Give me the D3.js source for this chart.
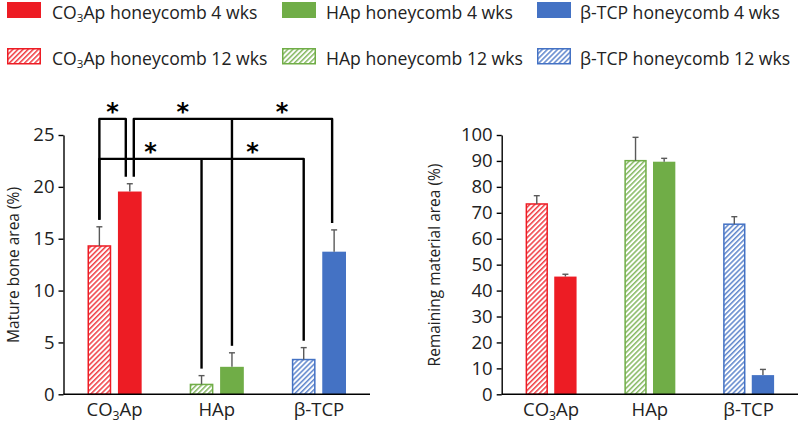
<!DOCTYPE html>
<html><head><meta charset="utf-8">
<script src="https://cdn.jsdelivr.net/npm/d3@7"></script>
<style>
html,body{margin:0;padding:0;background:#fff;}
svg{display:block;font-family:"Open Sans","Noto Sans",sans-serif;}
</style></head>
<body>
<svg id="chart" width="800" height="424"></svg>
<script>
// ---------- data ----------
const categories = ["CO3Ap", "HAp", "β-TCP"];
const seriesKeys = ["12wks", "4wks"];
const colors = ["#ED1C24", "#70AD47", "#4472C4"];
const legendLabels4 = [["CO", "3", "Ap honeycomb 4 wks"], ["HAp honeycomb 4 wks"], ["β-TCP honeycomb 4 wks"]];
const legendLabels12 = [["CO", "3", "Ap honeycomb 12 wks"], ["HAp honeycomb 12 wks"], ["β-TCP honeycomb 12 wks"]];

// Mature bone area (%)
const bone12 = [14.3, 0.95, 3.35];
const bone12Err = [1.85, 0.85, 1.15];
const bone4 = [19.55, 2.65, 13.75];
const bone4Err = [0.75, 1.35, 2.1];
const boneTicks = [0, 5, 10, 15, 20, 25];

// Remaining material area (%)
const mat12 = [73.4, 90.1, 65.6];
const mat12Err = [3.2, 9.0, 2.9];
const mat4 = [45.4, 89.7, 7.4];
const mat4Err = [0.9, 1.3, 2.2];
const matTicks = [0, 10, 20, 30, 40, 50, 60, 70, 80, 90, 100];

// significance brackets: level (y value), drops [category index, series key, x nudge]
const brackets = [
  {level: 26.55, drops: [[0, "12wks", 0], [0, "4wks", -4]], stars: [[0, 1]]},
  {level: 26.55, drops: [[0, "4wks", 4], [1, "4wks", 0], [2, "4wks", -2]], stars: [[0, 1], [1, 2]]},
  {level: 22.7, drops: [[0, "12wks", 0], [1, "12wks", 0], [2, "12wks", 0]], stars: [[0, 1], [1, 2]]}
];

// ---------- drawing ----------
const svg = d3.select("#chart");
const defs = svg.append("defs");
colors.forEach((c, i) => {
  const p = defs.append("pattern").attr("id", "hatch" + i)
    .attr("patternUnits", "userSpaceOnUse").attr("width", 3.6).attr("height", 3.6)
    .attr("patternTransform", "rotate(45)");
  p.append("rect").attr("width", 3.6).attr("height", 3.6).attr("fill", "#fff");
  p.append("line").attr("x1", 0.8).attr("y1", 0).attr("x2", 0.8).attr("y2", 3.6)
    .attr("stroke", c).attr("stroke-width", 1.3);
});

function addLabel(sel, parts, size) {
  if (parts.length === 1) { sel.text(parts[0]); return; }
  sel.append("tspan").text(parts[0]);
  sel.append("tspan").text(parts[1]).attr("font-size", size * 0.66).attr("dy", size * 0.22);
  sel.append("tspan").text(parts[2]).attr("dy", -size * 0.22);
}

// legend
const legX = [7, 282, 537], legTextX = [52, 326, 580];
const legFont = 17.6;
colors.forEach((c, i) => {
  svg.append("rect").attr("x", legX[i]).attr("y", 2).attr("width", 34).attr("height", 16).attr("fill", c);
  addLabel(svg.append("text").attr("x", legTextX[i]).attr("y", 18.5).attr("font-size", legFont).attr("fill", "#222"), legendLabels4[i], legFont);
  svg.append("rect").attr("x", legX[i] + 0.75).attr("y", 48.75).attr("width", 32.5).attr("height", 15)
    .attr("fill", "url(#hatch" + i + ")").attr("stroke", c).attr("stroke-width", 1.5);
  addLabel(svg.append("text").attr("x", legTextX[i]).attr("y", 64.5).attr("font-size", legFont).attr("fill", "#222"), legendLabels12[i], legFont);
});

function drawChart(opt) {
  const g = svg.append("g");
  const y = d3.scaleLinear().domain([0, opt.max]).range([394.3, 135]);
  const x0 = d3.scaleBand().domain(categories).range([opt.x0, opt.x1])
    .paddingInner(opt.padIn).paddingOuter(opt.padIn / 2);
  const x1 = d3.scaleBand().domain(seriesKeys).range([0, x0.bandwidth()]).paddingInner(0.22);
  const rows = [];
  categories.forEach((c, i) => {
    rows.push({cat: c, ci: i, key: "12wks", v: opt.v12[i], e: opt.e12[i]});
    rows.push({cat: c, ci: i, key: "4wks", v: opt.v4[i], e: opt.e4[i]});
  });
  // bars
  g.selectAll("rect.bar").data(rows).join("rect")
    .attr("x", d => x0(d.cat) + x1(d.key) + (d.key === "12wks" ? 0.75 : 0))
    .attr("width", d => x1.bandwidth() - (d.key === "12wks" ? 1.5 : 0))
    .attr("y", d => y(d.v))
    .attr("height", d => y(0) - y(d.v))
    .attr("fill", d => d.key === "12wks" ? "url(#hatch" + d.ci + ")" : colors[d.ci])
    .attr("stroke", d => d.key === "12wks" ? colors[d.ci] : "none")
    .attr("stroke-width", 1.5);
  // error bars
  const eb = g.selectAll("g.eb").data(rows).join("g").attr("stroke", "#595959").attr("stroke-width", 1.4);
  const cx = d => x0(d.cat) + x1(d.key) + x1.bandwidth() / 2;
  eb.append("line").attr("x1", cx).attr("x2", cx).attr("y1", d => y(d.v)).attr("y2", d => y(d.v + d.e));
  eb.append("line").attr("x1", d => cx(d) - 3).attr("x2", d => cx(d) + 3).attr("y1", d => y(d.v + d.e)).attr("y2", d => y(d.v + d.e));
  // axes
  const ya = g.append("g").attr("transform", `translate(${opt.x0},0)`)
    .call(d3.axisLeft(y).tickValues(opt.ticks).tickSize(5).tickPadding(4).tickSizeOuter(0));
  ya.attr("font-family", null).attr("font-size", null);
  ya.select(".domain").attr("stroke", "#000").attr("stroke-width", 1.4);
  ya.selectAll(".tick line").attr("stroke", "#000").attr("stroke-width", 1.4);
  ya.selectAll(".tick text").attr("font-size", 18.5).attr("fill", "#222");
  g.append("line").attr("x1", opt.x0).attr("x2", opt.x1).attr("y1", y(0)).attr("y2", y(0))
    .attr("stroke", "#000").attr("stroke-width", 1.6);
  // x labels
  categories.forEach((c, i) => {
    const t = g.append("text").attr("x", x0(c) + x0.bandwidth() / 2).attr("y", 416)
      .attr("text-anchor", "middle").attr("font-size", 18.5).attr("fill", "#222");
    if (c === "CO3Ap") addLabel(t, ["CO", "3", "Ap"], 18.5); else t.text(c);
  });
  // y title
  g.append("text").attr("transform", `translate(${opt.titleX},265) rotate(-90)`)
    .attr("text-anchor", "middle").attr("font-size", 15.5).attr("fill", "#222").text(opt.title);
  return {x0, x1, y, rows};
}

const left = drawChart({x0: 63.5, x1: 370, max: 25, padIn: 0.47, v12: bone12, e12: bone12Err, v4: bone4, e4: bone4Err,
  ticks: boneTicks, title: "Mature bone area (%)", titleX: 19});
drawChart({x0: 501.7, x1: 798, max: 100, padIn: 0.484, v12: mat12, e12: mat12Err, v4: mat4, e4: mat4Err,
  ticks: matTicks, title: "Remaining material area (%)", titleX: 440});

// brackets
const bg = svg.append("g").attr("fill", "none").attr("stroke", "#000").attr("stroke-width", 2.4)
  .attr("stroke-linejoin", "round").attr("stroke-linecap", "butt");
brackets.forEach(b => {
  const ly = left.y(b.level);
  const pts = b.drops.map(([ci, key, dx]) => {
    const r = left.rows.find(r => r.ci === ci && r.key === key);
    return {x: left.x0(categories[ci]) + left.x1(key) + left.x1.bandwidth() / 2 + dx,
            yb: left.y(r.v + r.e) - 7};
  });
  const first = pts[0], last = pts[pts.length - 1];
  bg.append("path").attr("d", `M${first.x},${first.yb}V${ly}H${last.x}V${last.yb}`);
  pts.slice(1, -1).forEach(p => bg.append("path").attr("d", `M${p.x},${ly}V${p.yb}`));
  b.stars.forEach(([a, c]) => {
    svg.append("text").attr("x", (pts[a].x + pts[c].x) / 2).attr("y", ly + 1)
      .attr("text-anchor", "middle").attr("font-size", 24).attr("font-weight", "bold")
      .attr("font-family", "DejaVu Sans").attr("fill", "#000").text("*");
  });
});
</script>
</body></html>
